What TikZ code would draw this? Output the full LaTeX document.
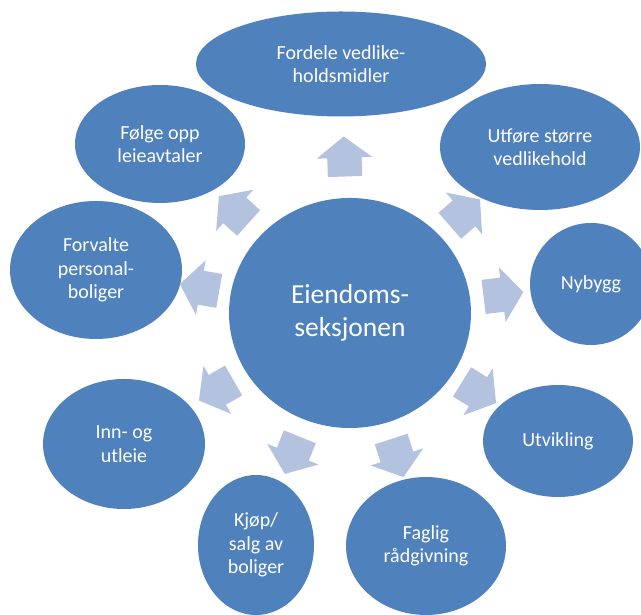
\documentclass[tikz,border=0pt]{standalone}
\usepackage{fontspec}
\setmainfont{Carlito}
\usetikzlibrary{shapes.geometric,shapes.arrows,calc}
\definecolor{accent}{HTML}{4F81BD}
\definecolor{flowtint}{HTML}{B3C2DE}

\begin{document}
\begin{tikzpicture}[x=1pt,y=1pt,
bubble/.style={ellipse,fill=accent,draw=none,inner sep=0pt,align=center,text=white,font=\fontsize{20}{23.5}\selectfont},
flow/.style={single arrow,fill=flowtint,draw=none,inner xsep=0pt,inner ysep=17pt,minimum height=40pt,minimum width=0pt,single arrow head extend=10.5pt,single arrow tip angle=105}]
  \useasboundingbox (0,0) rectangle (641,615);
  \clip (0,0) rectangle (641,615);
  \node[bubble,minimum width=242pt,minimum height=230pt,font=\fontsize{27.5}{33}\selectfont] (hub) at (350,302) {Eiendoms-\\seksjonen};
  \node[bubble,minimum width=290pt,minimum height=105pt] (fordele) at (341,551) {Fordele vedlike-\\holdsmidler};
  \node[bubble,minimum width=200pt,minimum height=126pt] (utfore) at (540,468) {Utføre større\\vedlikehold};
  \node[bubble,minimum width=122pt,minimum height=122pt] (nybygg) at (591,331) {Nybygg};
  \node[bubble,minimum width=150pt,minimum height=112pt] (utvikling) at (558,174) {Utvikling};
  \node[bubble,minimum width=160pt,minimum height=138pt] (faglig) at (426,69) {Faglig\\rådgivning};
  \node[bubble,minimum width=116pt,minimum height=140pt] (kjop) at (256,70) {Kjøp/\\salg av\\boliger};
  \node[bubble,minimum width=162pt,minimum height=130pt] (innutleie) at (124,171) {Inn- og\\utleie};
  \node[bubble,minimum width=172pt,minimum height=138pt] (forvalte) at (96,345) {Forvalte\\personal-\\boliger};
  \node[bubble,minimum width=170pt,minimum height=118pt] (folge) at (160,471) {Følge opp\\leieavtaler};
  % arrows out of the hub
  \node[flow,rotate=92] (toFordele) at ($(hub)!150pt!(fordele)$) {};
  \node[flow,rotate=41] (toUtfore) at ($(hub)!146pt!(utfore)$) {};
  \node[flow,rotate=7] (toNybygg) at ($(hub)!148pt!(nybygg)$) {};
  \node[flow,rotate=-32] (toUtvikling) at ($(hub)!145pt!(utvikling)$) {};
  \node[flow,rotate=-72] (toFaglig) at ($(hub)!146pt!(faglig)$) {};
  \node[flow,rotate=-112] (toKjop) at ($(hub)!147pt!(kjop)$) {};
  \node[flow,rotate=-150] (toInnutleie) at ($(hub)!148pt!(innutleie)$) {};
  \node[flow,rotate=170] (toForvalte) at ($(hub)!146pt!(forvalte)$) {};
  \node[flow,rotate=138] (toFolge) at ($(hub)!149pt!(folge)$) {};
\end{tikzpicture}
\end{document}
